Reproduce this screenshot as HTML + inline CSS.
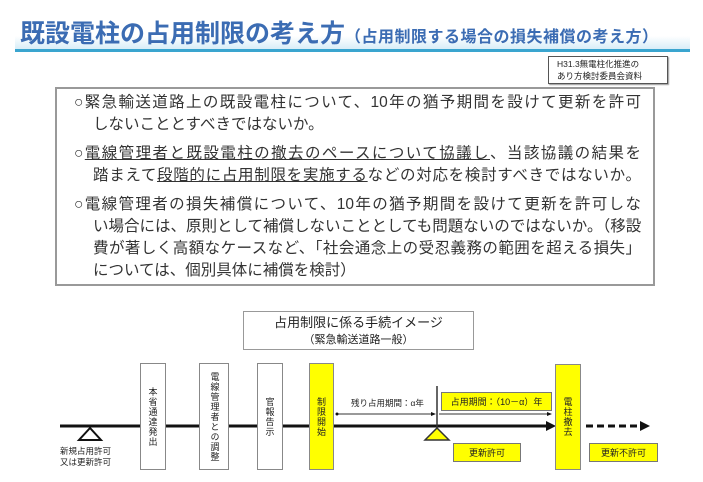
<!DOCTYPE html>
<html><head><meta charset="utf-8"><style>
body{margin:0;width:703px;height:482px;background:#fff;position:relative;overflow:hidden;font-family:"Liberation Sans","Noto Sans CJK JP",sans-serif;color:#222}
.a{position:absolute}
.vt{position:absolute;border:1px solid #888;background:#fff;writing-mode:vertical-rl;font-size:9px;display:flex;align-items:center;justify-content:center;letter-spacing:1px;box-sizing:border-box}
.y{background:#ffff00}
.yb{position:absolute;background:#ffff00;border:1px solid #777;font-size:9px;display:flex;align-items:center;justify-content:center;box-sizing:border-box}
.l{position:absolute;font-size:15.5px;line-height:22px;white-space:nowrap;color:#333;text-align:justify;text-align-last:justify}
.f1{left:74px;width:567px}
.f2{left:93px;width:548px}
.n{text-align-last:left}
</style></head><body>
<div class="a" style="left:15px;top:36px;width:675px;height:14px;background:linear-gradient(#fff,#d4ecf7)"></div>
<div class="a" style="left:15px;top:49px;width:675px;height:3px;background:#3aa5cf"></div>
<div class="a" style="left:20px;top:14px;font-size:25px;font-weight:bold;color:#3b6cb3;white-space:nowrap">既設電柱の占用制限の考え方<span style="font-size:16px;letter-spacing:0.5px">（占用制限する場合の損失補償の考え方）</span></div>
<div class="a" style="left:548px;top:56px;width:120px;height:28px;border:1px solid #555;box-sizing:border-box;font-size:8.5px;line-height:12px;padding:1px 0 0 8px;background:#fff;box-shadow:1px 1px 1px #999">H31.3無電柱化推進の<br>あり方検討委員会資料</div>
<div class="a" style="left:55px;top:87px;width:600px;height:199px;border:2px solid #999;box-sizing:border-box"></div>
<div class="l f1" style="top:92px">○緊急輸送道路上の既設電柱について、10年の猶予期間を設けて更新を許可</div>
<div class="l f2 n" style="top:114px">しないこととすべきではないか。</div>
<div class="l f1" style="top:143px">○<u>電線管理者と既設電柱の撤去のペースについて協議し</u>、当該協議の結果を</div>
<div class="l f2" style="top:165px">踏まえて<u>段階的に占用制限を実施する</u>などの対応を検討すべきではないか。</div>
<div class="l f1" style="top:194px">○電線管理者の損失補償について、10年の猶予期間を設けて更新を許可しな</div>
<div class="l f2" style="top:216px">い場合には、原則として補償しないこととしても問題ないのではないか。（移設</div>
<div class="l f2" style="top:238px">費が著しく高額なケースなど、「社会通念上の受忍義務の範囲を超える損失」</div>
<div class="l f2 n" style="top:260px">については、個別具体に補償を検討）</div>
<div class="a" style="left:243px;top:311px;width:231px;height:39px;border:1px solid #999;box-sizing:border-box;text-align:center;font-size:13px;line-height:16px;padding-top:3px">占用制限に係る手続イメージ<br><span style="font-size:11px">（緊急輸送道路一般）</span></div>
<svg class="a" style="left:0;top:0" width="703" height="482">
<line x1="60" y1="426" x2="548" y2="426" stroke="#111" stroke-width="3"/>
<polygon points="556,426 546,421 546,431" fill="#111"/>
<line x1="586" y1="426" x2="640" y2="426" stroke="#111" stroke-width="3" stroke-dasharray="7,4"/>
<polygon points="650,426 640,421 640,431" fill="#111"/>
<polygon points="90,428 79,440 101,440" fill="#fff" stroke="#111" stroke-width="2"/>
<line x1="337" y1="414" x2="434" y2="414" stroke="#333" stroke-width="1"/>
<circle cx="337" cy="414" r="1.5" fill="#111"/>
<polygon points="436,414 431,412 431,416" fill="#111"/>
<line x1="437" y1="386" x2="437" y2="428" stroke="#333" stroke-width="1.5"/>
<line x1="439" y1="414" x2="550" y2="414" stroke="#333" stroke-width="1"/>
<polygon points="552,414 547,412 547,416" fill="#111"/>
<polygon points="437,428 425,440 449,440" fill="#ffff00" stroke="#333" stroke-width="1.5"/>
</svg>
<div class="vt" style="left:140px;top:363px;width:26px;height:107px">本省通達発出</div>
<div class="vt" style="left:199px;top:363px;width:30px;height:107px;line-height:11px">電線管理者との調整</div>
<div class="vt" style="left:257px;top:363px;width:26px;height:107px">官報告示</div>
<div class="vt y" style="left:309px;top:363px;width:25px;height:107px">制限開始</div>
<div class="vt y" style="left:555px;top:364px;width:26px;height:106px">電柱撤去</div>
<div class="a" style="left:351px;top:397px;font-size:8.5px;white-space:nowrap">残り占用期間：α年</div>
<div class="yb" style="left:441px;top:392px;width:111px;height:19px">占用期間：（10－α）年</div>
<div class="yb" style="left:453px;top:443px;width:68px;height:19px">更新許可</div>
<div class="yb" style="left:589px;top:443px;width:69px;height:19px">更新不許可</div>
<div class="a" style="left:60px;top:446px;font-size:8.5px;line-height:11px">新規占用許可<br>又は更新許可</div>
</body></html>
